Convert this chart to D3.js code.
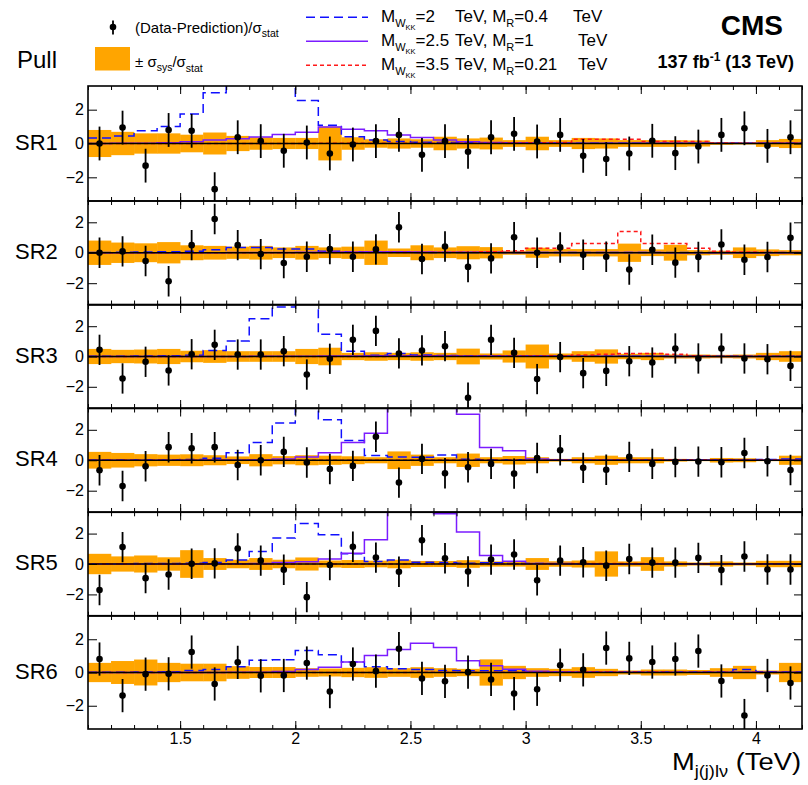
<!DOCTYPE html>
<html>
<head>
<meta charset="utf-8">
<script src="https://cdn.jsdelivr.net/npm/d3@7"></script>
<style>
  body { margin: 0; background: #fff; }
  svg { display: block; font-family: "Liberation Sans", Arial, Helvetica, sans-serif; }
</style>
</head>
<body>
<svg id="chart" width="808" height="785"></svg>
<script>
// ---- binning (TeV, lower edges of 0.1 TeV bins) ----
const binLow = [1.1,1.2,1.3,1.4,1.5,1.6,1.7,1.8,1.9,2.0,2.1,2.2,2.3,2.4,2.5,2.6,2.7,2.8,2.9,3.0,3.1,3.2,3.3,3.4,3.5,3.6,3.7,3.8,3.9,4.0,4.1];
const binWidth = 0.1;
const regions = ["SR1", "SR2", "SR3", "SR4", "SR5", "SR6"];
const xMajorTicks = [1.5, 2, 2.5, 3, 3.5, 4];
const yTicks = [-2, 0, 2];

// ---- (Data-Prediction)/sigma_stat ----
const pullSR1 = [0.00, 0.94, -1.31, 0.80, 0.75, -2.70, 0.37, 0.14, -0.43, 0.06, -0.59, -0.06, 0.14, 0.51, -0.67, 0.14, -0.49, 0.37, 0.57, 0.12, 0.51, -0.73, -0.92, -0.59, 0.16, -0.57, -0.18, 0.51, 0.90, -0.14, 0.37];
const pullSR2 = [0.00, 0.09, -0.54, -1.87, 0.50, 2.22, 0.50, -0.09, -0.67, -0.26, 0.24, -0.26, 0.22, 1.67, -0.41, 0.41, -0.93, -0.37, 1.02, 0.00, 0.35, -0.13, -0.26, -1.10, 0.20, -0.65, -0.28, 0.54, -0.46, -0.28, 0.98];
const pullSR3 = [0.44, -1.45, -0.35, -0.92, 0.15, 0.77, 0.13, 0.13, 0.35, -1.19, -0.15, 1.10, 1.69, 0.20, 0.40, 0.68, -2.72, 1.10, 0.24, -1.49, -0.04, -1.10, -0.95, -0.31, -0.40, 0.53, -0.13, 0.53, -0.13, -0.18, -0.62];
const pullSR4 = [-0.66, -1.69, -0.40, 0.86, 0.79, 0.86, -0.31, 0.00, 0.55, -0.15, -0.57, -0.37, 1.54, -1.47, 0.09, -0.86, -0.46, -0.24, -0.88, 0.15, 0.66, -0.50, -0.62, 0.22, -0.24, -0.11, -0.09, -0.13, 0.48, -0.07, -0.64];
const pullSR5 = [-1.71, 1.11, -0.93, -0.69, 0.02, 0.04, 1.02, 0.22, -0.38, -2.18, -0.07, 1.13, 0.42, -0.51, 1.56, 0.38, -0.49, 0.29, 0.62, -1.07, 0.22, 0.11, -0.11, 0.33, 0.09, 0.09, 0.40, -0.40, 0.49, -0.36, -0.36];
const pullSR6 = [0.81, -1.39, -0.10, -0.08, 1.23, -0.69, 0.61, -0.20, -0.18, 0.57, -1.15, 0.51, 0.08, 1.43, -0.36, -0.53, 0.02, -0.42, -1.27, -1.01, 0.44, 0.16, 1.47, 0.85, 0.63, 0.81, 1.29, -0.51, -2.59, -0.18, -0.63];

// ---- sigma_sys / sigma_stat (half-height of the band) ----
const sysSR1 = [0.80, 0.69, 0.60, 0.60, 0.52, 0.65, 0.45, 0.37, 0.33, 0.33, 1.00, 0.37, 0.25, 0.30, 0.25, 0.40, 0.30, 0.35, 0.20, 0.40, 0.20, 0.33, 0.30, 0.20, 0.20, 0.20, 0.18, 0.08, 0.06, 0.20, 0.27];
const sysSR2 = [0.80, 0.67, 0.62, 0.70, 0.49, 0.45, 0.40, 0.45, 0.35, 0.45, 0.35, 0.40, 0.80, 0.28, 0.49, 0.35, 0.43, 0.37, 0.13, 0.33, 0.24, 0.24, 0.24, 0.60, 0.22, 0.52, 0.17, 0.13, 0.35, 0.22, 0.17];
const sysSR3 = [0.50, 0.44, 0.46, 0.50, 0.38, 0.42, 0.35, 0.35, 0.35, 0.50, 0.58, 0.24, 0.28, 0.24, 0.28, 0.24, 0.52, 0.20, 0.40, 0.79, 0.20, 0.35, 0.47, 0.18, 0.24, 0.13, 0.13, 0.11, 0.13, 0.24, 0.35];
const sysSR4 = [0.55, 0.48, 0.40, 0.37, 0.39, 0.33, 0.25, 0.40, 0.27, 0.33, 0.30, 0.26, 0.20, 0.58, 0.37, 0.20, 0.44, 0.20, 0.28, 0.20, 0.09, 0.20, 0.30, 0.20, 0.20, 0.09, 0.06, 0.15, 0.13, 0.06, 0.30];
const sysSR5 = [0.67, 0.50, 0.56, 0.44, 0.91, 0.39, 0.28, 0.39, 0.28, 0.43, 0.23, 0.26, 0.22, 0.28, 0.20, 0.20, 0.25, 0.17, 0.17, 0.39, 0.18, 0.23, 0.83, 0.17, 0.45, 0.17, 0.10, 0.17, 0.10, 0.21, 0.21];
const sysSR6 = [0.58, 0.69, 0.78, 0.58, 0.53, 0.53, 0.38, 0.33, 0.33, 0.26, 0.24, 0.28, 0.32, 0.26, 0.32, 0.26, 0.22, 0.79, 0.40, 0.26, 0.22, 0.32, 0.22, 0.12, 0.18, 0.18, 0.15, 0.26, 0.40, 0.12, 0.58];

// ---- signal: M_WKK = 2 TeV, M_R = 0.4 TeV ----
const wkk2SR1 = [0.33, 0.45, 0.76, 1.00, 1.75, 3.00, 4.6, 5.2, 4.4, 2.55, 1.08, 0.40, 0.20, 0.12, 0.08, 0.06, 0.05, 0.04, 0.03, 0.03, 0.02, 0.02, 0.02, 0.02, 0.01, 0.01, 0.01, 0.01, 0.01, 0.01, 0.01];
const wkk2SR2 = [0.02, 0.03, 0.05, 0.07, 0.10, 0.20, 0.35, 0.35, 0.24, 0.24, 0.10, 0.06, 0.04, 0.03, 0.02, 0.02, 0.02, 0.01, 0.01, 0.01, 0.01, 0.01, 0.01, 0.01, 0.01, 0.01, 0.01, 0.01, 0.01, 0.01, 0.01];
const wkk2SR3 = [0.02, 0.02, 0.03, 0.05, 0.08, 0.40, 1.03, 2.50, 3.27, 4.6, 1.47, 0.35, 0.09, 0.20, 0.10, 0.06, 0.04, 0.03, 0.02, 0.02, 0.01, 0.01, 0.01, 0.01, 0.01, 0.01, 0.01, 0.01, 0.01, 0.01, 0.01];
const wkk2SR4 = [0.02, 0.02, 0.03, 0.03, 0.05, 0.13, 0.50, 1.16, 2.44, 4.2, 2.66, 1.30, 0.31, 0.22, 0.20, 0.35, 0.06, 0.04, 0.03, 0.03, 0.02, 0.02, 0.02, 0.02, 0.02, 0.02, 0.03, 0.03, 0.03, 0.05, 0.09];
const wkk2SR5 = [0.02, 0.02, 0.03, 0.03, 0.05, 0.10, 0.27, 0.82, 1.71, 2.67, 1.93, 0.67, 0.16, 0.27, 0.11, 0.10, 0.05, 0.09, 0.03, 0.03, 0.02, 0.02, 0.02, 0.01, 0.01, 0.01, 0.01, 0.01, 0.01, 0.01, 0.01];
const wkk2SR6 = [0.02, 0.02, 0.03, 0.05, 0.12, 0.18, 0.34, 0.73, 0.77, 1.33, 1.07, 0.63, 0.34, 0.22, 0.18, 0.12, 0.10, 0.10, 0.10, 0.05, 0.04, 0.03, 0.03, 0.03, 0.03, 0.03, 0.03, 0.03, 0.18, 0.05, 0.03];

// ---- signal: M_WKK = 2.5 TeV, M_R = 1 TeV ----
const wkk25SR1 = [0.00, 0.01, 0.02, 0.05, 0.10, 0.20, 0.28, 0.38, 0.53, 0.67, 0.97, 0.85, 0.75, 0.50, 0.35, 0.20, 0.10, 0.06, 0.04, 0.03, 0.03, 0.02, 0.02, 0.02, 0.01, 0.01, 0.01, 0.01, 0.01, 0.01, 0.01];
const wkk25SR2 = [0.00, 0.00, 0.00, 0.00, 0.00, 0.00, 0.01, 0.01, 0.02, 0.03, 0.04, 0.05, 0.06, 0.06, 0.05, 0.04, 0.03, 0.03, 0.02, 0.02, 0.01, 0.01, 0.01, 0.01, 0.01, 0.00, 0.00, 0.00, 0.00, 0.00, 0.00];
const wkk25SR3 = [0.00, 0.00, 0.00, 0.00, 0.00, 0.00, 0.00, 0.01, 0.01, 0.02, 0.03, 0.04, 0.05, 0.05, 0.05, 0.05, 0.04, 0.04, 0.03, 0.03, 0.02, 0.02, 0.01, 0.01, 0.01, 0.00, 0.00, 0.00, 0.00, 0.00, 0.00];
const wkk25SR4 = [0.00, 0.00, 0.00, 0.00, 0.00, 0.01, 0.02, 0.04, 0.09, 0.22, 0.50, 1.16, 1.78, 4.4, 5.0, 4.5, 3.03, 0.84, 0.62, 0.09, 0.04, 0.03, 0.02, 0.02, 0.01, 0.01, 0.01, 0.01, 0.01, 0.01, 0.01];
const wkk25SR5 = [0.00, 0.00, 0.00, 0.00, 0.00, 0.01, 0.02, 0.04, 0.10, 0.15, 0.33, 0.71, 1.60, 4.0, 4.6, 3.30, 2.11, 0.56, 0.18, 0.04, 0.03, 0.02, 0.02, 0.01, 0.01, 0.01, 0.01, 0.01, 0.01, 0.01, 0.01];
const wkk25SR6 = [0.00, 0.00, 0.00, 0.00, 0.00, 0.00, 0.01, 0.02, 0.06, 0.18, 0.32, 0.63, 1.03, 1.39, 1.76, 1.50, 0.71, 0.40, 0.20, 0.08, 0.04, 0.03, 0.02, 0.02, 0.01, 0.01, 0.01, 0.01, 0.01, 0.01, 0.01];

// ---- signal: M_WKK = 3.5 TeV, M_R = 0.21 TeV ----
const wkk35SR1 = [0.00, 0.00, 0.00, 0.00, 0.00, 0.00, 0.00, 0.00, 0.00, 0.00, 0.01, 0.01, 0.01, 0.01, 0.01, 0.02, 0.02, 0.02, 0.03, 0.04, 0.06, 0.25, 0.25, 0.25, 0.12, 0.12, 0.12, 0.03, 0.02, 0.01, 0.01];
const wkk35SR2 = [0.00, 0.00, 0.00, 0.00, 0.00, 0.00, 0.00, 0.00, 0.00, 0.00, 0.01, 0.01, 0.01, 0.02, 0.02, 0.03, 0.04, 0.06, 0.13, 0.30, 0.30, 0.60, 0.60, 1.40, 0.61, 0.61, 0.30, 0.10, 0.05, 0.03, 0.02];
const wkk35SR3 = [0.00, 0.00, 0.00, 0.00, 0.00, 0.00, 0.00, 0.00, 0.00, 0.00, 0.00, 0.00, 0.00, 0.01, 0.01, 0.01, 0.02, 0.02, 0.03, 0.04, 0.05, 0.10, 0.15, 0.20, 0.20, 0.15, 0.05, 0.02, 0.01, 0.01, 0.01];
const wkk35SR4 = [0.00, 0.00, 0.00, 0.00, 0.00, 0.00, 0.00, 0.00, 0.00, 0.00, 0.00, 0.00, 0.00, 0.00, 0.01, 0.01, 0.01, 0.01, 0.02, 0.02, 0.02, 0.03, 0.03, 0.04, 0.03, 0.03, 0.02, 0.01, 0.01, 0.01, 0.00];
const wkk35SR5 = [0.00, 0.00, 0.00, 0.00, 0.00, 0.00, 0.00, 0.00, 0.00, 0.00, 0.00, 0.00, 0.00, 0.00, 0.01, 0.01, 0.01, 0.01, 0.02, 0.02, 0.02, 0.03, 0.03, 0.03, 0.03, 0.02, 0.02, 0.01, 0.01, 0.00, 0.00];
const wkk35SR6 = [0.00, 0.00, 0.00, 0.00, 0.00, 0.00, 0.00, 0.00, 0.00, 0.00, 0.00, 0.00, 0.00, 0.00, 0.01, 0.01, 0.01, 0.01, 0.02, 0.02, 0.02, 0.03, 0.03, 0.03, 0.03, 0.02, 0.02, 0.01, 0.01, 0.00, 0.00];

const pulls  = [pullSR1, pullSR2, pullSR3, pullSR4, pullSR5, pullSR6];
const systs  = [sysSR1, sysSR2, sysSR3, sysSR4, sysSR5, sysSR6];
const sigA   = [wkk2SR1, wkk2SR2, wkk2SR3, wkk2SR4, wkk2SR5, wkk2SR6];
const sigB   = [wkk25SR1, wkk25SR2, wkk25SR3, wkk25SR4, wkk25SR5, wkk25SR6];
const sigC   = [wkk35SR1, wkk35SR2, wkk35SR3, wkk35SR4, wkk35SR5, wkk35SR6];

// ---- styling ----
const bandColor = "#ffa500";
const signalStyles = [
  { key: "A", color: "#1010ff", dash: "9,5" },
  { key: "B", color: "#7b1cff", dash: null },
  { key: "C", color: "#ff1a1a", dash: "4,3" }
];
const fontStack = "Liberation Sans, Arial, sans-serif";

// ---- layout ----
const svg = d3.select("#chart");
const plotLeft = 88, plotRight = 802;
const panelBounds = [[86, 201], [201, 304.5], [305, 408], [408.5, 512], [512.3, 615.7], [616, 729]];
const x = d3.scaleLinear().domain([1.1, 4.2]).range([plotLeft, plotRight]);
const minorTicks = binLow.concat([4.2]);

const panels = regions.map((name, k) => ({
  name, k,
  top: panelBounds[k][0], bottom: panelBounds[k][1],
  pull: pulls[k], sys: systs[k],
  signals: [sigA[k], sigB[k], sigC[k]]
}));

const defs = svg.append("defs");

panels.forEach(p => {
  const y = d3.scaleLinear().domain([-3.4, 3.4]).range([p.bottom, p.top]);
  const clipId = "clip-" + p.name;
  defs.append("clipPath").attr("id", clipId)
    .append("rect").attr("x", plotLeft).attr("y", p.top)
    .attr("width", plotRight - plotLeft).attr("height", p.bottom - p.top);

  const g = svg.append("g").attr("class", "panel");
  const inner = g.append("g").attr("clip-path", `url(#${clipId})`);

  // systematic band
  inner.selectAll("rect.band").data(p.sys).join("rect")
    .attr("class", "band")
    .attr("x", (d, i) => x(binLow[i]))
    .attr("width", (d, i) => x(binLow[i] + binWidth) - x(binLow[i]) + 0.3)
    .attr("y", d => y(d))
    .attr("height", d => y(-d) - y(d))
    .attr("fill", bandColor);

  // signal step histograms
  const step = d3.line().x(d => x(d[0])).y(d => y(d[1])).curve(d3.curveStepAfter);
  p.signals.forEach((vals, s) => {
    const pts = binLow.map((b, i) => [b, vals[i]]);
    pts.push([binLow[binLow.length - 1] + binWidth, vals[vals.length - 1]]);
    inner.append("path")
      .attr("d", step(pts))
      .attr("fill", "none")
      .attr("stroke", signalStyles[s].color)
      .attr("stroke-width", 1.5)
      .attr("stroke-dasharray", signalStyles[s].dash);
  });

  // zero line
  inner.append("line")
    .attr("x1", plotLeft).attr("x2", plotRight)
    .attr("y1", y(0)).attr("y2", y(0))
    .attr("stroke", "#000").attr("stroke-width", 1.6);

  // data points with +-1 error bars
  const pts = inner.selectAll("g.pt").data(p.pull).join("g").attr("class", "pt");
  pts.append("line")
    .attr("x1", (d, i) => x(binLow[i] + binWidth / 2))
    .attr("x2", (d, i) => x(binLow[i] + binWidth / 2))
    .attr("y1", d => y(d - 1)).attr("y2", d => y(d + 1))
    .attr("stroke", "#000").attr("stroke-width", 1.8);
  pts.append("circle")
    .attr("cx", (d, i) => x(binLow[i] + binWidth / 2))
    .attr("cy", d => y(d))
    .attr("r", 3.3).attr("fill", "#000");

  // frame
  g.append("rect")
    .attr("x", plotLeft).attr("y", p.top)
    .attr("width", plotRight - plotLeft).attr("height", p.bottom - p.top)
    .attr("fill", "none").attr("stroke", "#000").attr("stroke-width", 1.6);

  // x ticks on top and bottom edges (pointing inward)
  const tickAxis = (axis, ty) => {
    const a = g.append("g").attr("transform", `translate(0,${ty})`).call(axis);
    a.select(".domain").remove();
    a.selectAll("text").remove();
    a.selectAll(".tick line").attr("stroke", "#000").attr("stroke-width", 1);
    return a;
  };
  tickAxis(d3.axisBottom(x).tickValues(minorTicks).tickSize(4), p.top);
  tickAxis(d3.axisBottom(x).tickValues(xMajorTicks).tickSize(8), p.top);
  tickAxis(d3.axisTop(x).tickValues(minorTicks).tickSize(4), p.bottom);
  tickAxis(d3.axisTop(x).tickValues(xMajorTicks).tickSize(8), p.bottom);

  // y axis left with labels, ticks inward
  const yl = g.append("g").attr("transform", `translate(${plotLeft},0)`)
    .call(d3.axisLeft(y).tickValues(yTicks).tickSize(-9).tickPadding(4).tickFormat(d3.format("d")));
  yl.select(".domain").remove();
  yl.selectAll(".tick line").attr("stroke", "#000").attr("stroke-width", 1);
  yl.selectAll("text").attr("font-size", 16).attr("fill", "#000").attr("font-family", fontStack);

  // y axis right, ticks only
  const yr = g.append("g").attr("transform", `translate(${plotRight},0)`)
    .call(d3.axisLeft(y).tickValues(yTicks).tickSize(8));
  yr.select(".domain").remove();
  yr.selectAll("text").remove();
  yr.selectAll(".tick line").attr("stroke", "#000").attr("stroke-width", 1);

  // region label
  g.append("text")
    .attr("x", 15).attr("y", y(0) + 6)
    .attr("font-size", 22).attr("fill", "#000")
    .text(p.name);

  // x tick labels under the last panel
  if (p.k === panels.length - 1) {
    const xl = g.append("g").attr("transform", `translate(0,${p.bottom})`)
      .call(d3.axisBottom(x).tickValues(xMajorTicks).tickSize(0).tickPadding(4).tickFormat(d => String(d)));
    xl.select(".domain").remove();
    xl.selectAll("text").attr("font-size", 16).attr("fill", "#000").attr("font-family", fontStack);
  }
});

// ---- x axis title (slightly widened, right-aligned to the frame) ----
const xtG = svg.append("g").attr("transform", "translate(801,770) scale(1.14,1)");
const xt = xtG.append("text")
  .attr("x", 0).attr("y", 0)
  .attr("text-anchor", "end")
  .attr("font-size", 24).attr("fill", "#000");
xt.append("tspan").text("M");
xt.append("tspan").attr("font-size", 16).attr("dy", 7).text("j(j)l\u03BD");
xt.append("tspan").attr("dy", -7).text(" (TeV)");

// ---- header ----
svg.append("text").attr("x", 17).attr("y", 68)
  .attr("font-size", 24).attr("fill", "#000").text("Pull");

svg.append("text").attr("x", 783).attr("y", 35)
  .attr("text-anchor", "end").attr("font-size", 28).attr("font-weight", "bold")
  .attr("fill", "#000").text("CMS");

const lumi = svg.append("text").attr("x", 794).attr("y", 68)
  .attr("text-anchor", "end").attr("font-size", 18).attr("font-weight", "bold").attr("fill", "#000");
lumi.append("tspan").text("137 fb");
lumi.append("tspan").attr("font-size", 12).attr("dy", -7).text("-1");
lumi.append("tspan").attr("dy", 7).text(" (13 TeV)");

// left legend: data marker
const legL = svg.append("g");
legL.append("line").attr("x1", 113).attr("x2", 113).attr("y1", 20.5).attr("y2", 34.5)
  .attr("stroke", "#000").attr("stroke-width", 1.8);
legL.append("circle").attr("cx", 113).attr("cy", 27).attr("r", 3.3).attr("fill", "#000");
const t1 = legL.append("text").attr("x", 135).attr("y", 33).attr("font-size", 15).attr("fill", "#000");
t1.append("tspan").text("(Data-Prediction)/\u03C3");
t1.append("tspan").attr("font-size", 10.5).attr("dy", 4).text("stat");

// left legend: band
legL.append("rect").attr("x", 95).attr("y", 47).attr("width", 35).attr("height", 23.5).attr("fill", bandColor);
const t2 = legL.append("text").attr("x", 135).attr("y", 67).attr("font-size", 15).attr("fill", "#000");
t2.append("tspan").text("\u00B1 \u03C3");
t2.append("tspan").attr("font-size", 10.5).attr("dy", 4).text("sys");
t2.append("tspan").attr("dy", -4).text("/\u03C3");
t2.append("tspan").attr("font-size", 10.5).attr("dy", 5).text("stat");

// right legend: signal hypotheses
const legendRows = [
  { wkk: "=2", mr: "=0.4", tevX: 573, ly: 17.3 },
  { wkk: "=2.5", mr: "=1", tevX: 578, ly: 41.3 },
  { wkk: "=3.5", mr: "=0.21", tevX: 578, ly: 65.3 }
];
const legR = svg.append("g");
legendRows.forEach((r, i) => {
  legR.append("line").attr("x1", 306).attr("x2", 368).attr("y1", r.ly).attr("y2", r.ly)
    .attr("stroke", signalStyles[i].color).attr("stroke-width", 1.5)
    .attr("stroke-dasharray", signalStyles[i].dash);
  const base = r.ly + 5;
  const a = legR.append("text").attr("x", 381).attr("y", base).attr("font-size", 17).attr("fill", "#000");
  a.append("tspan").text("M");
  a.append("tspan").attr("font-size", 11).attr("dy", 5).text("W");
  a.append("tspan").attr("font-size", 7.5).attr("dy", 3).text("KK");
  a.append("tspan").attr("dy", -8).text(r.wkk);
  const b = legR.append("text").attr("x", 455).attr("y", base).attr("font-size", 17).attr("fill", "#000");
  b.append("tspan").text("TeV, M");
  b.append("tspan").attr("font-size", 11).attr("dy", 5).text("R");
  b.append("tspan").attr("dy", -5).text(r.mr);
  legR.append("text").attr("x", r.tevX).attr("y", base).attr("font-size", 17).attr("fill", "#000").text("TeV");
});
</script>
</body>
</html>
